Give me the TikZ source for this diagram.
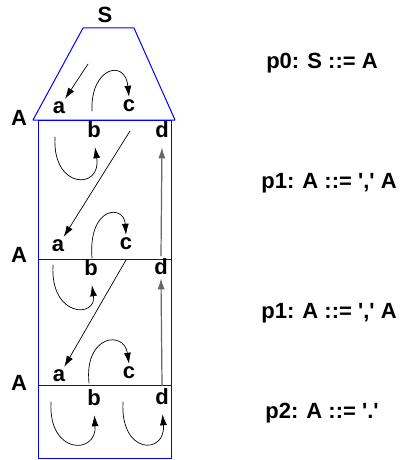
\documentclass[tikz,border=0pt]{standalone}
\usepackage{fontspec}
\setmainfont{Liberation Sans}
\usetikzlibrary{arrows.meta}

\tikzset{
  sym/.style={font=\fontsize{22}{25}\selectfont\bfseries, inner sep=3pt},
  prod/.style={font=\fontsize{22}{25}\selectfont\bfseries},
  frame/.style={blue, line width=1pt},
  flow/.style={-{Latex[length=11pt,width=7pt]}, line width=0.7pt},
  lift/.style={flow, black!60, line width=1.2pt}
}

\begin{document}
\begin{tikzpicture}[x=1pt, y=-1pt, line cap=round, line join=round]
\useasboundingbox (0,0) rectangle (403,460);

% Ableitungsbaum
\draw[frame] (83,28) -- (134,28) -- (175,120) -- (33,120) -- cycle;
\draw[frame] (38,120) rectangle (171,259);
\draw[frame] (38,259) rectangle (171,385);
\draw[frame] (38,385) rectangle (171,458);

% Nichtterminale
\node[sym] (S) at (105,15) {S};
\node[sym] (A0) at (19,118) {A};
\node[sym] (A1) at (19,255) {A};
\node[sym] (A2) at (19,383) {A};

% Attribute
\node[sym] (a0) at (59,108) {a};
\node[sym] (c0) at (129,106) {c};
\node[sym] (b1) at (94,130) {b};
\node[sym] (d1) at (162,130) {d};
\node[sym] (a1) at (58,246) {a};
\node[sym] (c1) at (126,244) {c};
\node[sym] (b2) at (91,268) {b};
\node[sym] (d2) at (161,267) {d};
\node[sym] (a2) at (59,376) {a};
\node[sym] (c2) at (129,373) {c};
\node[sym] (b3) at (94,398) {b};
\node[sym] (d3) at (162,397) {d};

% freie Enden
\coordinate (s0) at (88,64);
\coordinate (t0) at (92,111);
\coordinate (s1) at (130,131);
\coordinate (u1) at (55,137);
\coordinate (t1) at (92,258);
\coordinate (s2) at (126,260);
\coordinate (u2) at (53,265);
\coordinate (t2) at (89,383);
\coordinate (u3) at (51,402);
\coordinate (v3) at (123,402);

% Abhaengigkeiten
\draw[flow] (s0) -- (a0);
\draw[flow] (t0) .. controls (90,68) and (125,58) .. (c0.north);
\draw[flow, shorten >=6pt] (u1) .. controls (52,190) and (102,190) .. (b1.south);
\draw[flow] (s1) -- (a1);
\draw[flow] (t1) .. controls (88,206) and (124,204) .. (c1.north);
\draw[lift, shorten >=6pt] (d2.north) -- (d1.south);

\draw[flow, shorten >=6pt] (u2) .. controls (50,318) and (97,318) .. (b2.south);
\draw[flow] (s2) -- (a2);
\draw[flow] (t2) .. controls (84,335) and (124,330) .. (c2.north);
\draw[lift] (d3.north) -- (d2.south);

\draw[flow, shorten >=6pt] (u3) .. controls (48,455) and (97,455) .. (b3.south);
\draw[flow, shorten >=6pt] (v3) .. controls (120,455) and (166,455) .. (d3.south);

% Produktionen
\node[prod] (p0) at (322,63) {p0: S ::= A};
\node[prod] (p1a) at (329,183) {p1: A ::= \textquotesingle,\textquotesingle\ A};
\node[prod] (p1b) at (329,313) {p1: A ::= \textquotesingle,\textquotesingle\ A};
\node[prod] (p2) at (322,413) {p2: A ::= \textquotesingle.\textquotesingle};

\end{tikzpicture}
\end{document}
